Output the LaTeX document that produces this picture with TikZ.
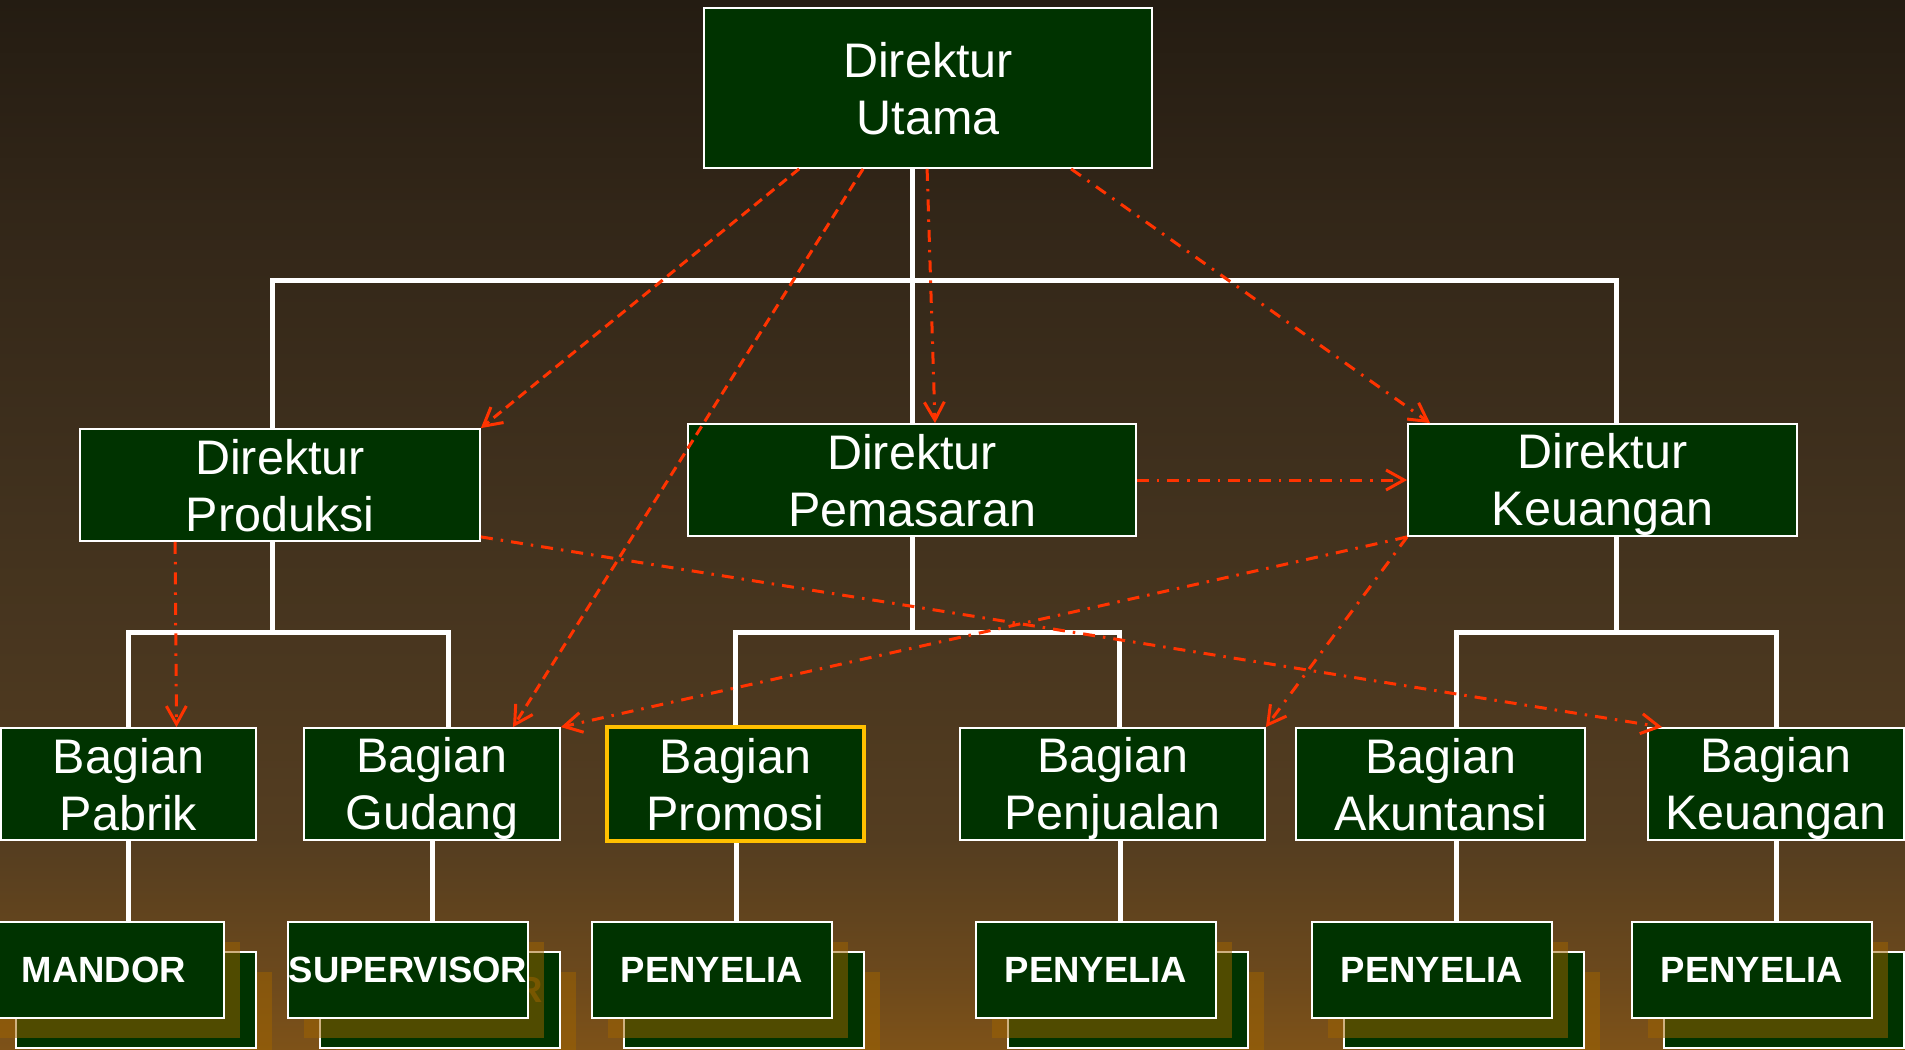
\documentclass[tikz,border=0pt]{standalone}
\usepackage{fontspec}
\setmainfont{Liberation Sans}
\usetikzlibrary{arrows.meta,calc}
\definecolor{boxgreen}{RGB}{0,51,0}
\definecolor{redarrow}{RGB}{255,51,0}
\definecolor{ygold}{RGB}{255,192,0}
\definecolor{shorange}{RGB}{160,100,0}
\definecolor{bga}{RGB}{126,82,24}
\definecolor{bgb}{RGB}{110,74,28}
\definecolor{bgc}{RGB}{84,61,32}
\definecolor{bgd}{RGB}{66,50,30}
\definecolor{bge}{RGB}{50,38,24}
\definecolor{bgf}{RGB}{36,28,18}
\pgfdeclareverticalshading{bgshade}{100bp}{color(0bp)=(bga); color(25bp)=(bga); color(28bp)=(bgb); color(35bp)=(bgc); color(50bp)=(bgd); color(65bp)=(bge); color(75bp)=(bgf); color(100bp)=(bgf)}
\pgfdeclarelayer{back}
\pgfdeclarelayer{conns}
\pgfsetlayers{back,conns,main}
\newcommand{\twolines}[2]{\rule{0pt}{44pt}#1\\#2\rule[-8pt]{0pt}{8pt}}
\begin{document}
\begin{tikzpicture}[x=1pt,y=-1pt,
  box/.style={draw=white, line width=1.8pt, fill=boxgreen, text=white, align=center, inner sep=0pt, font=\fontsize{48.5}{57}\selectfont},
  lowbox/.style={draw=white, line width=1.8pt, fill=boxgreen, text=white, inner sep=0pt, minimum width=240pt, minimum height=96pt, font=\bfseries\fontsize{36.5}{43}\selectfont},
  shadowbox/.style={fill=shorange, fill opacity=0.5, text opacity=0.5, text=shorange, inner sep=0pt, minimum width=240pt, minimum height=96pt, font=\bfseries\fontsize{36.5}{43}\selectfont},
  conn/.style={draw=white, line width=5pt},
  redtip/.style={-{Straight Barb[length=18pt,width=20pt]}},
  dashedarrow/.style={draw=redarrow, line width=3pt, dash pattern=on 10pt off 6pt, redtip},
  dotarrow/.style={draw=redarrow, line width=3pt, dash pattern=on 12pt off 8pt on 2.5pt off 8pt, redtip},
]
\begin{pgfonlayer}{back}
\shade[shading=bgshade] (0,0) rectangle (1905,1049);
\end{pgfonlayer}
\useasboundingbox (0,0) rectangle (1905,1049);

% directors
\node[box, minimum width=448pt, minimum height=160pt] (utama) at (928,88) {\twolines{Direktur}{Utama}};
\node[box, minimum width=400pt, minimum height=112pt] (prod) at (280,485) {\twolines{Direktur}{Produksi}};
\node[box, minimum width=448pt, minimum height=112pt] (pem) at (912,480) {\twolines{Direktur}{Pemasaran}};
\node[box, minimum width=389pt, minimum height=112pt] (keu) at (1602.5,480) {\twolines{Direktur}{Keuangan}};

% departments
\node[box, minimum width=255pt, minimum height=112pt] (pabrik) at (128.5,784) {\twolines{Bagian}{Pabrik}};
\node[box, minimum width=256pt, minimum height=112pt] (gudang) at (432,784) {\twolines{Bagian}{Gudang}};
\node[box, draw=ygold, line width=4pt, minimum width=257pt, minimum height=114pt] (promosi) at (735.5,784) {\twolines{Bagian}{Promosi}};
\node[box, minimum width=305pt, minimum height=112pt] (penjualan) at (1112.5,784) {\twolines{Bagian}{Penjualan}};
\node[box, minimum width=289pt, minimum height=112pt] (akuntansi) at (1440.5,784) {\twolines{Bagian}{Akuntansi}};
\node[box, minimum width=256pt, minimum height=112pt] (bkeu) at (1776,784) {\twolines{Bagian}{Keuangan}};

% bottom stacks
\foreach \n/\cx/\t in {mandor/104/MANDOR, supervisor/408/SUPERVISOR, pya/712/PENYELIA, pyb/1096/PENYELIA, pyc/1432/PENYELIA, pyd/1752/PENYELIA}{
  \node[shadowbox] (\n-bs) at (\cx+48,1020) {};
  \node[lowbox] (\n-b) at (\cx+32,1000) {};
  \node[shadowbox] (\n-s) at (\cx+16,990) {\t};
  \node[lowbox] (\n) at (\cx,970) {\t};
}

% helper coordinates
\coordinate (bar1) at (0,280);
\coordinate (bar2) at (0,632);
\coordinate (pdtop) at ([xshift=-8pt]prod.north);
\coordinate (pdbot) at ([xshift=-8pt]prod.south);
\coordinate (kdtop) at ([xshift=13.5pt]keu.north);
\coordinate (kdbot) at ([xshift=13.5pt]keu.south);
\coordinate (gdtop) at ([xshift=16pt]gudang.north);
\coordinate (pjtop) at ([xshift=6.5pt]penjualan.north);
\coordinate (aktop) at ([xshift=15.5pt]akuntansi.north);

\begin{pgfonlayer}{conns}
\draw[conn] (utama.south -| pem.north) -- (pem.north);
\draw[conn] (pdtop) -- (pdtop |- bar1) -- (kdtop |- bar1) -- (kdtop);
\draw[conn] (pdbot) -- (pdbot |- bar2);
\draw[conn] (pabrik.north) -- (pabrik.north |- bar2) -- (gdtop |- bar2) -- (gdtop);
\draw[conn] (pem.south) -- (pem.south |- bar2);
\draw[conn] (promosi.north) -- (promosi.north |- bar2) -- (pjtop |- bar2) -- (pjtop);
\draw[conn] (kdbot) -- (kdbot |- bar2);
\draw[conn] (aktop) -- (aktop |- bar2) -- (bkeu.north |- bar2) -- (bkeu.north);
\foreach \lo/\up in {mandor/pabrik, supervisor/gudang, pya/promosi, pyb/penjualan, pyc/akuntansi, pyd/bkeu}{
  \coordinate (\lo-top) at ([xshift=24pt]\lo.north);
  \draw[conn] (\lo-top) -- (\lo-top |- \up.south);
}
\end{pgfonlayer}

% red arrows
\draw[dashedarrow] ([xshift=96pt]utama.south west) -- (prod.north east);
\draw[dashedarrow] ([xshift=160pt]utama.south west) -- ([xshift=81pt]gudang.north);
\draw[dotarrow] ([xshift=224pt]utama.south west) -- ([xshift=23pt]pem.north);
\draw[dotarrow] ([xshift=368pt]utama.south west) -- ([xshift=23pt]keu.north west);
\draw[dotarrow] (pem.east) -- (keu.west);
\draw[dotarrow] ([xshift=96pt]prod.south west) -- ([xshift=48pt]pabrik.north);
\draw[dotarrow] ([yshift=5pt]prod.south east) -- ([xshift=15pt]bkeu.north west);
\draw[dotarrow] (keu.south west) -- (gudang.north east);
\draw[dotarrow] (keu.south west) -- (penjualan.north east);
\end{tikzpicture}
\end{document}
